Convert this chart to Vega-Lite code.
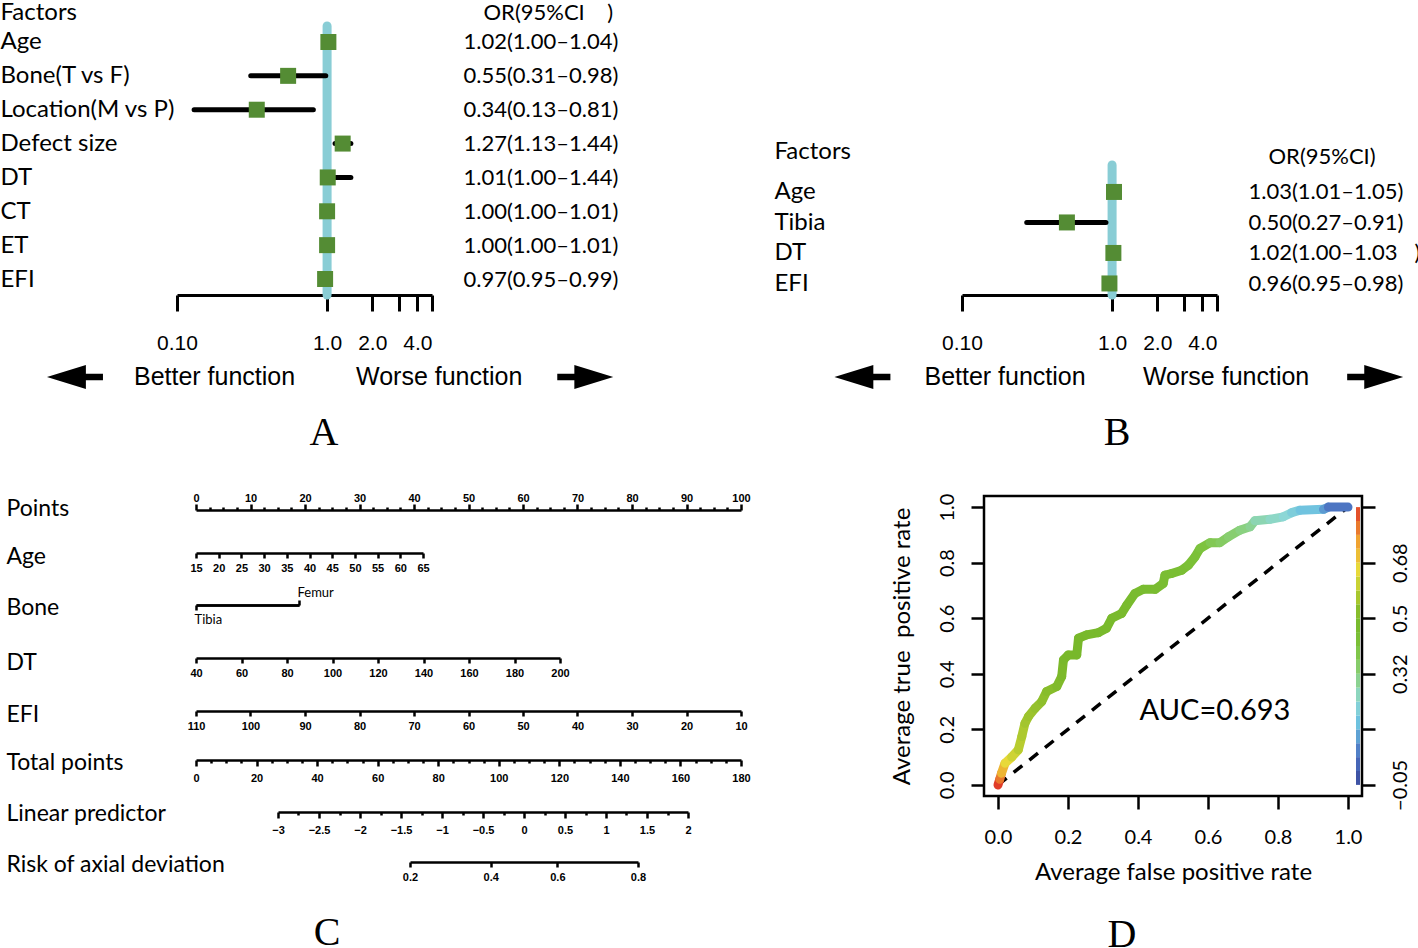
{
  "$schema": "https://vega.github.io/schema/vega-lite/v6.json",
  "background": "white",
  "padding": 0,
  "config": {
    "view": {"stroke": null},
    "axis": {"grid": false, "domainColor": "black", "tickColor": "black", "labelColor": "black", "titleColor": "black", "labelFlush": false, "labelOverlap": false, "titleFontWeight": "normal", "labelFont": "Lato", "titleFont": "Lato"}
  },
  "spacing": 470,
  "bounds": "flush",
  "vconcat": [
    {
      "spacing": 785,
      "bounds": "flush",
      "hconcat": [
        {
          "spacing": 67,
          "bounds": "flush",
          "vconcat": [
            {
              "width": 255,
              "height": 269,
              "data": {"values": [
                {"key": "Age|1.02(1.00–1.04)", "or": 1.02, "lo": 1.00, "hi": 1.04},
                {"key": "Bone(T vs F)|0.55(0.31–0.98)", "or": 0.55, "lo": 0.31, "hi": 0.98},
                {"key": "Location(M vs P)|0.34(0.13–0.81)", "or": 0.34, "lo": 0.13, "hi": 0.81},
                {"key": "Defect size|1.27(1.13–1.44)", "or": 1.27, "lo": 1.13, "hi": 1.44},
                {"key": "DT|1.01(1.00–1.44)", "or": 1.01, "lo": 1.00, "hi": 1.44},
                {"key": "CT|1.00(1.00–1.01)", "or": 1.00, "lo": 1.00, "hi": 1.01},
                {"key": "ET|1.00(1.00–1.01)", "or": 1.00, "lo": 1.00, "hi": 1.01},
                {"key": "EFI|0.97(0.95–0.99)", "or": 0.97, "lo": 0.95, "hi": 0.99}
              ]},
              "layer": [
                {
                  "data": {"values": [{"ref_or": 1}]},
                  "mark": {"type": "rule", "color": "#89cdd5", "strokeWidth": 9, "strokeCap": "round"},
                  "encoding": {
                    "x": {"field": "ref_or", "type": "quantitative", "title": null, "scale": {"type": "log", "domain": [0.1, 5], "nice": false},
                      "axis": {"orient": "bottom", "values": [0.1, 1, 2, 3, 4, 5], "labelExpr": "datum.value == 0.1 ? '0.10' : datum.value == 1 ? '1.0' : datum.value == 2 ? '2.0' : datum.value == 4 ? '4.0' : ''", "tickSize": 16, "tickWidth": 3, "domainWidth": 3, "labelFont": "Liberation Sans", "labelFontSize": 21, "labelPadding": 21, "title": null}}
                  }
                },
                {
                  "mark": {"type": "rule", "color": "black", "strokeWidth": 5, "strokeCap": "round"},
                  "encoding": {
                    "x": {"field": "lo", "type": "quantitative", "title": null, "scale": {"type": "log", "domain": [0.1, 5], "nice": false}},
                    "x2": {"field": "hi"},
                    "y": {"field": "key", "type": "nominal", "sort": null, "scale": {"type": "point", "padding": 0.4725},
                      "axis": {"orient": "left", "domain": false, "ticks": false, "tickSize": 0, "labelAlign": "left", "labelBaseline": "middle", "labelPadding": 177, "labelFont": "Lato", "labelFontSize": 24, "labelExpr": "split(datum.value, '|')[0]", "title": "Factors", "titleAngle": 0, "titleAlign": "left", "titleBaseline": "middle", "titleX": -177, "titleY": -14, "titleFont": "Lato", "titleFontSize": 24}}
                  }
                },
                {
                  "mark": {"type": "point", "shape": "square", "filled": true, "size": 256, "color": "#548c34", "opacity": 1},
                  "encoding": {
                    "x": {"field": "or", "type": "quantitative", "title": null, "scale": {"type": "log", "domain": [0.1, 5], "nice": false}},
                    "y": {"field": "key", "type": "nominal", "sort": null, "scale": {"type": "point", "padding": 0.4725},
                      "axis": {"orient": "right", "domain": false, "ticks": false, "tickSize": 0, "labelAlign": "left", "labelBaseline": "middle", "labelPadding": 31, "labelFont": "Lato", "labelFontSize": 22, "labelExpr": "split(datum.value, '|')[1]", "title": "OR(95%CI\u00a0\u00a0\u00a0\u00a0)", "titleAngle": 0, "titleAlign": "left", "titleBaseline": "middle", "titleX": 51, "titleY": -14, "titleFont": "Lato", "titleFontSize": 22}}
                  }
                }
              ],
              "resolve": {"axis": {"y": "independent"}}
            },
            {
              "width": 255,
              "height": 30,
              "data": {"values": [
                {"kind": "label", "text": "Better function", "or": 0.178},
                {"kind": "label", "text": "Worse function", "or": 5.58},
                {"kind": "arrow", "dir": "left", "or": 0.0209},
                {"kind": "arrow", "dir": "right", "or": 52.5}
              ]},
              "title": {"text": "A", "orient": "bottom", "anchor": "middle", "frame": "group", "dx": 19.5, "offset": 21, "font": "Liberation Serif", "fontSize": 40, "fontWeight": "normal", "color": "black"},
              "layer": [
                {
                  "transform": [{"filter": "datum.kind == 'label'"}],
                  "mark": {"type": "text", "font": "Liberation Sans", "fontSize": 25, "align": "center", "baseline": "middle", "color": "black"},
                  "encoding": {
                    "x": {"field": "or", "type": "quantitative", "scale": {"type": "log", "domain": [0.1, 5], "nice": false}, "axis": null},
                    "text": {"field": "text"}
                  }
                },
                {
                  "transform": [{"filter": "datum.kind == 'arrow'"}],
                  "mark": {"type": "point", "filled": true, "opacity": 1, "color": "black", "size": 3136},
                  "encoding": {
                    "x": {"field": "or", "type": "quantitative", "scale": {"type": "log", "domain": [0.1, 5], "nice": false}, "axis": null},
                    "shape": {"field": "dir", "type": "nominal", "scale": {"domain": ["left", "right"], "range": ["M-1,0L0.39,-0.43L0.39,-0.12L1,-0.12L1,0.12L0.39,0.12L0.39,0.43Z", "M1,0L-0.39,-0.43L-0.39,-0.12L-1,-0.12L-1,0.12L-0.39,0.12L-0.39,0.43Z"]}, "legend": null}
                  }
                }
              ]
            }
          ]
        },
        {
          "spacing": 67,
          "bounds": "flush",
          "vconcat": [
            {
              "width": 255,
              "height": 72,
              "data": {"values": [{"blank": ""}]},
              "mark": {"type": "text", "opacity": 0},
              "encoding": {"text": {"field": "blank"}}
            },
            {
              "width": 255,
              "height": 130,
              "data": {"values": [
                {"key": "Age|1.03(1.01–1.05)", "or": 1.03, "lo": 1.01, "hi": 1.05},
                {"key": "Tibia|0.50(0.27–0.91)", "or": 0.50, "lo": 0.27, "hi": 0.91},
                {"key": "DT|1.02(1.00–1.03\u00a0\u00a0\u00a0)", "or": 1.02, "lo": 1.00, "hi": 1.03},
                {"key": "EFI|0.96(0.95–0.98)", "or": 0.96, "lo": 0.95, "hi": 0.98}
              ]},
              "layer": [
                {
                  "data": {"values": [{"ref_or": 1}]},
                  "mark": {"type": "rule", "color": "#89cdd5", "strokeWidth": 9, "strokeCap": "round"},
                  "encoding": {
                    "x": {"field": "ref_or", "type": "quantitative", "title": null, "scale": {"type": "log", "domain": [0.1, 5], "nice": false},
                      "axis": {"orient": "bottom", "values": [0.1, 1, 2, 3, 4, 5], "labelExpr": "datum.value == 0.1 ? '0.10' : datum.value == 1 ? '1.0' : datum.value == 2 ? '2.0' : datum.value == 4 ? '4.0' : ''", "tickSize": 16, "tickWidth": 3, "domainWidth": 3, "labelFont": "Liberation Sans", "labelFontSize": 21, "labelPadding": 21, "title": null}}
                  }
                },
                {
                  "mark": {"type": "rule", "color": "black", "strokeWidth": 5, "strokeCap": "round"},
                  "encoding": {
                    "x": {"field": "lo", "type": "quantitative", "title": null, "scale": {"type": "log", "domain": [0.1, 5], "nice": false}},
                    "x2": {"field": "hi"},
                    "y": {"field": "key", "type": "nominal", "sort": null, "scale": {"type": "point", "padding": 0.631, "align": 0.7},
                      "axis": {"orient": "left", "domain": false, "ticks": false, "tickSize": 0, "labelAlign": "left", "labelBaseline": "middle", "labelPadding": 188, "labelFont": "Lato", "labelFontSize": 24, "labelExpr": "split(datum.value, '|')[0]", "title": "Factors", "titleAngle": 0, "titleAlign": "left", "titleBaseline": "middle", "titleX": -188, "titleY": -14, "titleFont": "Lato", "titleFontSize": 24}}
                  }
                },
                {
                  "mark": {"type": "point", "shape": "square", "filled": true, "size": 256, "color": "#548c34", "opacity": 1},
                  "encoding": {
                    "x": {"field": "or", "type": "quantitative", "title": null, "scale": {"type": "log", "domain": [0.1, 5], "nice": false}},
                    "y": {"field": "key", "type": "nominal", "sort": null, "scale": {"type": "point", "padding": 0.631, "align": 0.7},
                      "axis": {"orient": "right", "domain": false, "ticks": false, "tickSize": 0, "labelAlign": "left", "labelBaseline": "middle", "labelPadding": 31, "labelFont": "Lato", "labelFontSize": 22, "labelExpr": "split(datum.value, '|')[1]", "title": "OR(95%CI)", "titleAngle": 0, "titleAlign": "left", "titleBaseline": "middle", "titleX": 51, "titleY": -9, "titleFont": "Lato", "titleFontSize": 22}}
                  }
                }
              ],
              "resolve": {"axis": {"y": "independent"}}
            },
            {
              "width": 255,
              "height": 30,
              "data": {"values": [
                {"kind": "label", "text": "Better function", "or": 0.1936},
                {"kind": "label", "text": "Worse function", "or": 5.75},
                {"kind": "arrow", "dir": "left", "or": 0.0217},
                {"kind": "arrow", "dir": "right", "or": 56.6}
              ]},
              "title": {"text": "B", "orient": "bottom", "anchor": "middle", "frame": "group", "dx": 27.5, "offset": 21, "font": "Liberation Serif", "fontSize": 40, "fontWeight": "normal", "color": "black"},
              "layer": [
                {
                  "transform": [{"filter": "datum.kind == 'label'"}],
                  "mark": {"type": "text", "font": "Liberation Sans", "fontSize": 25, "align": "center", "baseline": "middle", "color": "black"},
                  "encoding": {
                    "x": {"field": "or", "type": "quantitative", "scale": {"type": "log", "domain": [0.1, 5], "nice": false}, "axis": null},
                    "text": {"field": "text"}
                  }
                },
                {
                  "transform": [{"filter": "datum.kind == 'arrow'"}],
                  "mark": {"type": "point", "filled": true, "opacity": 1, "color": "black", "size": 3136},
                  "encoding": {
                    "x": {"field": "or", "type": "quantitative", "scale": {"type": "log", "domain": [0.1, 5], "nice": false}, "axis": null},
                    "shape": {"field": "dir", "type": "nominal", "scale": {"domain": ["left", "right"], "range": ["M-1,0L0.39,-0.43L0.39,-0.12L1,-0.12L1,0.12L0.39,0.12L0.39,0.43Z", "M1,0L-0.39,-0.43L-0.39,-0.12L-1,-0.12L-1,0.12L-0.39,0.12L-0.39,0.43Z"]}, "legend": null}
                  }
                }
              ]
            }
          ]
        }
      ]
    },
    {
      "spacing": 807,
      "bounds": "flush",
      "hconcat": [
        {
          "spacing": 50.5,
          "bounds": "flush",
          "vconcat": [
            {
              "width": 564, "height": 1,
              "data": {"values": [{"points": 0}, {"points": 100}]},
              "mark": {"type": "point", "opacity": 0},
              "encoding": {"x": {"field": "points", "type": "quantitative", "scale": {"domain": [0, 100], "range": [19, 564], "nice": false, "zero": false},
                "axis": {"orient": "top", "offset": -14, "values": [0,2.5,5,7.5,10,12.5,15,17.5,20,22.5,25,27.5,30,32.5,35,37.5,40,42.5,45,47.5,50,52.5,55,57.5,60,62.5,65,67.5,70,72.5,75,77.5,80,82.5,85,87.5,90,92.5,95,97.5,100],
                  "format": "d", "labelExpr": "datum.value % 10 === 0 ? datum.label : ''", "tickSize": {"condition": {"test": "datum.value % 10 === 0", "value": 6}, "value": 3},
                  "domainWidth": 2.5, "tickWidth": 2.5, "labelFont": "Liberation Sans Narrow, Liberation Sans", "labelFontSize": 11, "labelFontWeight": "bold", "labelPadding": 1,
                  "title": "Points", "titleFont": "Lato", "titleFontSize": 23, "titleAngle": 0, "titleAlign": "left", "titleBaseline": "middle", "titleX": -171, "titleY": -2}}}
            },
            {
              "width": 564, "height": 1,
              "data": {"values": [{"age": 15}, {"age": 65}]},
              "mark": {"type": "point", "opacity": 0},
              "encoding": {"x": {"field": "age", "type": "quantitative", "scale": {"domain": [15, 65], "range": [19, 246], "nice": false, "zero": false},
                "axis": {"orient": "bottom", "offset": 4.5, "values": [15,20,25,30,35,40,45,50,55,60,65], "format": "d", "tickSize": 5,
                  "domainWidth": 2.5, "tickWidth": 2.5, "labelFont": "Liberation Sans Narrow, Liberation Sans", "labelFontSize": 11, "labelFontWeight": "bold", "labelPadding": 4,
                  "title": "Age", "titleFont": "Lato", "titleFontSize": 23, "titleAngle": 0, "titleAlign": "left", "titleBaseline": "middle", "titleX": -171, "titleY": 3}}}
            },
            {
              "width": 564, "height": 1,
              "data": {"values": [{"bone": "Tibia", "points": 0}, {"bone": "Femur", "points": 18.9}]},
              "layer": [
                {
                  "mark": {"type": "point", "opacity": 0},
                  "encoding": {
                    "y": {"field": "bone", "type": "nominal", "axis": null},
                    "x": {"field": "points", "type": "quantitative", "scale": {"domain": [0, 18.9], "range": [19, 122], "nice": false, "zero": false},
                    "axis": {"orient": "bottom", "offset": 5, "values": [0], "labelExpr": "'Tibia'", "tickSize": 5, "labelAlign": "left", "labelOffset": -2,
                      "domainWidth": 2.5, "tickWidth": 2.5, "labelFont": "Lato", "labelFontSize": 13, "labelPadding": 3,
                      "title": "Bone", "titleFont": "Lato", "titleFontSize": 23, "titleAngle": 0, "titleAlign": "left", "titleBaseline": "middle", "titleX": -171, "titleY": 2}}}
                },
                {
                  "mark": {"type": "point", "opacity": 0},
                  "encoding": {
                    "y": {"field": "bone", "type": "nominal", "axis": null},
                    "x": {"field": "points", "type": "quantitative", "scale": {"domain": [0, 18.9], "range": [19, 122], "nice": false, "zero": false},
                    "axis": {"orient": "top", "offset": -6, "values": [18.9], "labelExpr": "'Femur'", "tickSize": 5, "labelAlign": "left", "labelOffset": -2,
                      "domainWidth": 2.5, "tickWidth": 2.5, "labelFont": "Lato", "labelFontSize": 13, "labelPadding": 1, "title": null}}}
                }
              ],
              "resolve": {"axis": {"x": "independent"}}
            },
            {
              "width": 564, "height": 1,
              "data": {"values": [{"dt": 40}, {"dt": 200}]},
              "mark": {"type": "point", "opacity": 0},
              "encoding": {"x": {"field": "dt", "type": "quantitative", "scale": {"domain": [40, 200], "range": [19, 383], "nice": false, "zero": false},
                "axis": {"orient": "bottom", "offset": 6.5, "values": [40,60,80,100,120,140,160,180,200], "format": "d", "tickSize": 5,
                  "domainWidth": 2.5, "tickWidth": 2.5, "labelFont": "Liberation Sans Narrow, Liberation Sans", "labelFontSize": 11, "labelFontWeight": "bold", "labelPadding": 4,
                  "title": "DT", "titleFont": "Lato", "titleFontSize": 23, "titleAngle": 0, "titleAlign": "left", "titleBaseline": "middle", "titleX": -171, "titleY": 4}}}
            },
            {
              "width": 564, "height": 1,
              "data": {"values": [{"efi": 10}, {"efi": 110}]},
              "mark": {"type": "point", "opacity": 0},
              "encoding": {"x": {"field": "efi", "type": "quantitative", "scale": {"domain": [10, 110], "range": [19, 564], "reverse": true, "nice": false, "zero": false},
                "axis": {"orient": "bottom", "offset": 8, "values": [10,20,30,40,50,60,70,80,90,100,110], "format": "d", "tickSize": 5,
                  "domainWidth": 2.5, "tickWidth": 2.5, "labelFont": "Liberation Sans Narrow, Liberation Sans", "labelFontSize": 11, "labelFontWeight": "bold", "labelPadding": 4,
                  "title": "EFI", "titleFont": "Lato", "titleFontSize": 23, "titleAngle": 0, "titleAlign": "left", "titleBaseline": "middle", "titleX": -171, "titleY": 3}}}
            },
            {
              "width": 564, "height": 1,
              "data": {"values": [{"total": 0}, {"total": 180}]},
              "mark": {"type": "point", "opacity": 0},
              "encoding": {"x": {"field": "total", "type": "quantitative", "scale": {"domain": [0, 180], "range": [19, 564], "nice": false, "zero": false},
                "axis": {"orient": "bottom", "offset": 5.5, "values": [0,5,10,15,20,25,30,35,40,45,50,55,60,65,70,75,80,85,90,95,100,105,110,115,120,125,130,135,140,145,150,155,160,165,170,175,180],
                  "format": "d", "labelExpr": "datum.value % 20 === 0 ? datum.label : ''", "tickSize": {"condition": {"test": "datum.value % 20 === 0", "value": 6}, "value": 3},
                  "domainWidth": 2.5, "tickWidth": 2.5, "labelFont": "Liberation Sans Narrow, Liberation Sans", "labelFontSize": 11, "labelFontWeight": "bold", "labelPadding": 6,
                  "title": "Total points", "titleFont": "Lato", "titleFontSize": 23, "titleAngle": 0, "titleAlign": "left", "titleBaseline": "middle", "titleX": -171, "titleY": 2}}}
            },
            {
              "width": 564, "height": 1,
              "data": {"values": [{"lp": -3}, {"lp": 2}]},
              "mark": {"type": "point", "opacity": 0},
              "encoding": {"x": {"field": "lp", "type": "quantitative", "scale": {"domain": [-3, 2], "range": [101, 511], "nice": false, "zero": false},
                "axis": {"orient": "bottom", "offset": 6, "values": [-3,-2.75,-2.5,-2.25,-2,-1.75,-1.5,-1.25,-1,-0.75,-0.5,-0.25,0,0.25,0.5,0.75,1,1.25,1.5,1.75,2],
                  "format": "~g", "labelExpr": "datum.value % 0.5 === 0 ? datum.label : ''", "tickSize": {"condition": {"test": "datum.value % 0.5 === 0", "value": 6}, "value": 3},
                  "domainWidth": 2.5, "tickWidth": 2.5, "labelFont": "Liberation Sans Narrow, Liberation Sans", "labelFontSize": 11, "labelFontWeight": "bold", "labelPadding": 6,
                  "title": "Linear predictor", "titleFont": "Lato", "titleFontSize": 23, "titleAngle": 0, "titleAlign": "left", "titleBaseline": "middle", "titleX": -171, "titleY": 1}}}
            },
            {
              "width": 564, "height": 1,
              "data": {"values": [{"risk": 0.2, "lp": -1.3863}, {"risk": 0.4, "lp": -0.4055}, {"risk": 0.6, "lp": 0.4055}, {"risk": 0.8, "lp": 1.3863}]},
              "title": {"text": "C", "orient": "bottom", "anchor": "middle", "frame": "group", "dx": -132, "offset": 31, "font": "Liberation Serif", "fontSize": 40, "fontWeight": "normal", "color": "black"},
              "mark": {"type": "point", "opacity": 0},
              "encoding": {"x": {"field": "lp", "type": "quantitative", "scale": {"domain": [-1.3863, 1.3863], "range": [233, 461], "nice": false, "zero": false},
                "axis": {"orient": "bottom", "offset": 4.5, "values": [-1.3863, -0.4055, 0.4055, 1.3863], "labelExpr": "format(1/(1+exp(-datum.value)), '.1f')", "tickSize": 5,
                  "domainWidth": 2.5, "tickWidth": 2.5, "labelFont": "Liberation Sans Narrow, Liberation Sans", "labelFontSize": 11, "labelFontWeight": "bold", "labelPadding": 4,
                  "title": "Risk of axial deviation", "titleFont": "Lato", "titleFontSize": 23, "titleAngle": 0, "titleAlign": "left", "titleBaseline": "middle", "titleX": -171, "titleY": 2}}}
            }
          ]
        },
        {
          "width": 378,
          "height": 300,
          "view": {"stroke": "black", "strokeWidth": 2.5},
          "title": {"text": "D", "orient": "bottom", "anchor": "middle", "frame": "group", "dx": -51, "offset": 31, "font": "Liberation Serif", "fontSize": 40, "fontWeight": "normal", "color": "black"},
          "layer": [
            {
              "data": {"values": [{"fpr": 0, "tpr": 0, "fpr2": 1, "tpr2": 1}]},
              "mark": {"type": "rule", "color": "black", "strokeWidth": 3.5, "strokeDash": [11, 9]},
              "encoding": {
                "x": {"field": "fpr", "type": "quantitative", "scale": {"domain": [-0.04, 1.04], "nice": false, "zero": false}, "title": "Average false positive rate",
                  "axis": {"orient": "bottom", "values": [0, 0.2, 0.4, 0.6, 0.8, 1], "format": ".1f", "domain": false, "tickSize": 13, "tickWidth": 2.5, "labelFont": "Lato", "labelFontSize": 20, "labelPadding": 18, "titleFont": "Lato", "titleFontSize": 24, "titlePadding": 13}},
                "x2": {"field": "fpr2"},
                "y": {"field": "tpr", "type": "quantitative", "scale": {"domain": [-0.04, 1.04], "nice": false, "zero": false}, "title": "Average true\u00a0 positive rate",
                  "axis": {"orient": "left", "values": [0, 0.2, 0.4, 0.6, 0.8, 1], "format": ".1f", "domain": false, "tickSize": 13, "tickWidth": 2.5, "labelAngle": -90, "labelAlign": "center", "labelBaseline": "bottom", "labelFont": "Lato", "labelFontSize": 20, "labelPadding": 14, "titleFont": "Lato", "titleFontSize": 24, "titlePadding": 23}},
                "y2": {"field": "tpr2"}
              }
            },
            {
              "data": {"values": [
                {"fpr": 0, "tpr": 0, "fpr2": 0.005, "tpr2": 0.02, "cut": 0.865},
                {"fpr": 0.005, "tpr": 0.02, "fpr2": 0.01, "tpr2": 0.042, "cut": 0.80},
                {"fpr": 0.01, "tpr": 0.042, "fpr2": 0.02, "tpr2": 0.078, "cut": 0.72},
                {"fpr": 0.02, "tpr": 0.078, "fpr2": 0.039, "tpr2": 0.10, "cut": 0.66},
                {"fpr": 0.039, "tpr": 0.10, "fpr2": 0.058, "tpr2": 0.126, "cut": 0.62},
                {"fpr": 0.058, "tpr": 0.126, "fpr2": 0.068, "tpr2": 0.174, "cut": 0.59},
                {"fpr": 0.068, "tpr": 0.174, "fpr2": 0.077, "tpr2": 0.222, "cut": 0.575},
                {"fpr": 0.077, "tpr": 0.222, "fpr2": 0.087, "tpr2": 0.246, "cut": 0.56},
                {"fpr": 0.087, "tpr": 0.246, "fpr2": 0.106, "tpr2": 0.276, "cut": 0.55},
                {"fpr": 0.106, "tpr": 0.276, "fpr2": 0.125, "tpr2": 0.30, "cut": 0.54},
                {"fpr": 0.125, "tpr": 0.30, "fpr2": 0.139, "tpr2": 0.336, "cut": 0.53},
                {"fpr": 0.139, "tpr": 0.336, "fpr2": 0.168, "tpr2": 0.354, "cut": 0.52},
                {"fpr": 0.168, "tpr": 0.354, "fpr2": 0.182, "tpr2": 0.39, "cut": 0.51},
                {"fpr": 0.182, "tpr": 0.39, "fpr2": 0.187, "tpr2": 0.45, "cut": 0.505},
                {"fpr": 0.187, "tpr": 0.45, "fpr2": 0.201, "tpr2": 0.468, "cut": 0.50},
                {"fpr": 0.201, "tpr": 0.468, "fpr2": 0.225, "tpr2": 0.468, "cut": 0.50},
                {"fpr": 0.225, "tpr": 0.468, "fpr2": 0.23, "tpr2": 0.528, "cut": 0.495},
                {"fpr": 0.23, "tpr": 0.528, "fpr2": 0.253, "tpr2": 0.54, "cut": 0.495},
                {"fpr": 0.253, "tpr": 0.54, "fpr2": 0.287, "tpr2": 0.548, "cut": 0.49},
                {"fpr": 0.287, "tpr": 0.548, "fpr2": 0.31, "tpr2": 0.564, "cut": 0.49},
                {"fpr": 0.31, "tpr": 0.564, "fpr2": 0.325, "tpr2": 0.60, "cut": 0.485},
                {"fpr": 0.325, "tpr": 0.60, "fpr2": 0.353, "tpr2": 0.617, "cut": 0.48},
                {"fpr": 0.353, "tpr": 0.617, "fpr2": 0.368, "tpr2": 0.647, "cut": 0.48},
                {"fpr": 0.368, "tpr": 0.647, "fpr2": 0.391, "tpr2": 0.689, "cut": 0.475},
                {"fpr": 0.391, "tpr": 0.689, "fpr2": 0.415, "tpr2": 0.704, "cut": 0.47},
                {"fpr": 0.415, "tpr": 0.704, "fpr2": 0.449, "tpr2": 0.704, "cut": 0.465},
                {"fpr": 0.449, "tpr": 0.704, "fpr2": 0.472, "tpr2": 0.725, "cut": 0.46},
                {"fpr": 0.472, "tpr": 0.725, "fpr2": 0.477, "tpr2": 0.755, "cut": 0.455},
                {"fpr": 0.477, "tpr": 0.755, "fpr2": 0.496, "tpr2": 0.761, "cut": 0.45},
                {"fpr": 0.496, "tpr": 0.761, "fpr2": 0.525, "tpr2": 0.773, "cut": 0.445},
                {"fpr": 0.525, "tpr": 0.773, "fpr2": 0.544, "tpr2": 0.791, "cut": 0.44},
                {"fpr": 0.544, "tpr": 0.791, "fpr2": 0.563, "tpr2": 0.821, "cut": 0.43},
                {"fpr": 0.563, "tpr": 0.821, "fpr2": 0.577, "tpr2": 0.851, "cut": 0.42},
                {"fpr": 0.577, "tpr": 0.851, "fpr2": 0.606, "tpr2": 0.872, "cut": 0.40},
                {"fpr": 0.606, "tpr": 0.872, "fpr2": 0.634, "tpr2": 0.872, "cut": 0.37},
                {"fpr": 0.634, "tpr": 0.872, "fpr2": 0.658, "tpr2": 0.893, "cut": 0.35},
                {"fpr": 0.658, "tpr": 0.893, "fpr2": 0.691, "tpr2": 0.917, "cut": 0.33},
                {"fpr": 0.691, "tpr": 0.917, "fpr2": 0.72, "tpr2": 0.929, "cut": 0.31},
                {"fpr": 0.72, "tpr": 0.929, "fpr2": 0.734, "tpr2": 0.951, "cut": 0.29},
                {"fpr": 0.734, "tpr": 0.951, "fpr2": 0.777, "tpr2": 0.956, "cut": 0.26},
                {"fpr": 0.777, "tpr": 0.956, "fpr2": 0.815, "tpr2": 0.965, "cut": 0.24},
                {"fpr": 0.815, "tpr": 0.965, "fpr2": 0.839, "tpr2": 0.98, "cut": 0.22},
                {"fpr": 0.839, "tpr": 0.98, "fpr2": 0.863, "tpr2": 0.989, "cut": 0.19},
                {"fpr": 0.863, "tpr": 0.989, "fpr2": 0.93, "tpr2": 0.992, "cut": 0.16},
                {"fpr": 0.93, "tpr": 0.992, "fpr2": 0.944, "tpr2": 1.0, "cut": 0.10},
                {"fpr": 0.944, "tpr": 1.0, "fpr2": 1.0, "tpr2": 1.0, "cut": 0.05}
              ]},
              "mark": {"type": "rule", "strokeWidth": 9, "strokeCap": "round"},
              "encoding": {
                "x": {"field": "fpr", "type": "quantitative", "scale": {"domain": [-0.04, 1.04], "nice": false, "zero": false}, "title": "Average false positive rate"},
                "x2": {"field": "fpr2"},
                "y": {"field": "tpr", "type": "quantitative", "scale": {"domain": [-0.04, 1.04], "nice": false, "zero": false}, "axis": null},
                "y2": {"field": "tpr2"},
                "color": {"field": "cut", "type": "quantitative", "legend": null,
                  "scale": {"type": "linear", "domain": [-0.05, 0.0415, 0.1513, 0.2245, 0.316, 0.4075, 0.499, 0.5905, 0.6546, 0.7552, 0.865], "range": ["#3a4a9c", "#4a6fc0", "#6cc0e0", "#8ed8d5", "#8ad07a", "#7cc23a", "#78b82a", "#b8cc30", "#e8dc3a", "#f0a030", "#e03c28"], "interpolate": "rgb"}}
              }
            },
            {
              "data": {"values": [{"fpr": 0.62, "tpr": 0.266, "label": "AUC=0.693"}]},
              "mark": {"type": "text", "font": "Lato", "fontSize": 29, "color": "black", "align": "center", "baseline": "middle"},
              "encoding": {
                "x": {"field": "fpr", "type": "quantitative", "scale": {"domain": [-0.04, 1.04], "nice": false, "zero": false}, "title": "Average false positive rate"},
                "y": {"field": "tpr", "type": "quantitative", "scale": {"domain": [-0.04, 1.04], "nice": false, "zero": false}, "axis": null},
                "text": {"field": "label"}
              }
            },
            {
              "data": {"values": [
                {"lo": -0.05, "hi": -0.0043, "cut": -0.0272},
                {"lo": -0.0043, "hi": 0.0415, "cut": 0.0186},
                {"lo": 0.0415, "hi": 0.0873, "cut": 0.0644},
                {"lo": 0.0873, "hi": 0.133, "cut": 0.1101},
                {"lo": 0.133, "hi": 0.1788, "cut": 0.1559},
                {"lo": 0.1788, "hi": 0.2245, "cut": 0.2016},
                {"lo": 0.2245, "hi": 0.2703, "cut": 0.2474},
                {"lo": 0.2703, "hi": 0.316, "cut": 0.2931},
                {"lo": 0.316, "hi": 0.3618, "cut": 0.3389},
                {"lo": 0.3618, "hi": 0.4075, "cut": 0.3846},
                {"lo": 0.4075, "hi": 0.4533, "cut": 0.4304},
                {"lo": 0.4533, "hi": 0.499, "cut": 0.4761},
                {"lo": 0.499, "hi": 0.5448, "cut": 0.5219},
                {"lo": 0.5448, "hi": 0.5905, "cut": 0.5676},
                {"lo": 0.5905, "hi": 0.6363, "cut": 0.6134},
                {"lo": 0.6363, "hi": 0.682, "cut": 0.6591},
                {"lo": 0.682, "hi": 0.7278, "cut": 0.7049},
                {"lo": 0.7278, "hi": 0.7735, "cut": 0.7506},
                {"lo": 0.7735, "hi": 0.8193, "cut": 0.7964},
                {"lo": 0.8193, "hi": 0.865, "cut": 0.8421}
              ]},
              "mark": {"type": "rule", "strokeWidth": 4},
              "encoding": {
                "x": {"datum": 1.0286, "type": "quantitative", "scale": {"domain": [-0.04, 1.04], "nice": false, "zero": false}, "title": "Average false positive rate"},
                "y": {"field": "lo", "type": "quantitative", "scale": {"domain": [-0.0866, 0.9016], "nice": false, "zero": false},
                  "axis": {"orient": "right", "values": [-0.05, 0.133, 0.316, 0.499, 0.682, 0.865], "labelExpr": "datum.value < 0 ? '−0.05' : abs(datum.value - 0.316) < 0.01 ? '0.32' : abs(datum.value - 0.499) < 0.01 ? '0.5' : abs(datum.value - 0.682) < 0.01 ? '0.68' : ''", "domain": false, "tickSize": 13, "tickWidth": 2.5, "labelAngle": -90, "labelAlign": "center", "labelBaseline": "top", "labelFont": "Lato", "labelFontSize": 20, "labelPadding": 15, "title": null}},
                "y2": {"field": "hi"},
                "color": {"field": "cut", "type": "quantitative", "legend": null,
                  "scale": {"type": "linear", "domain": [-0.05, 0.0415, 0.1513, 0.2245, 0.316, 0.4075, 0.499, 0.5905, 0.6546, 0.7552, 0.865], "range": ["#3a4a9c", "#4a6fc0", "#6cc0e0", "#8ed8d5", "#8ad07a", "#7cc23a", "#78b82a", "#b8cc30", "#e8dc3a", "#f0a030", "#e03c28"], "interpolate": "rgb"}}
              }
            }
          ],
          "resolve": {"scale": {"y": "independent"}, "axis": {"y": "independent"}}
        }
      ]
    }
  ]
}
